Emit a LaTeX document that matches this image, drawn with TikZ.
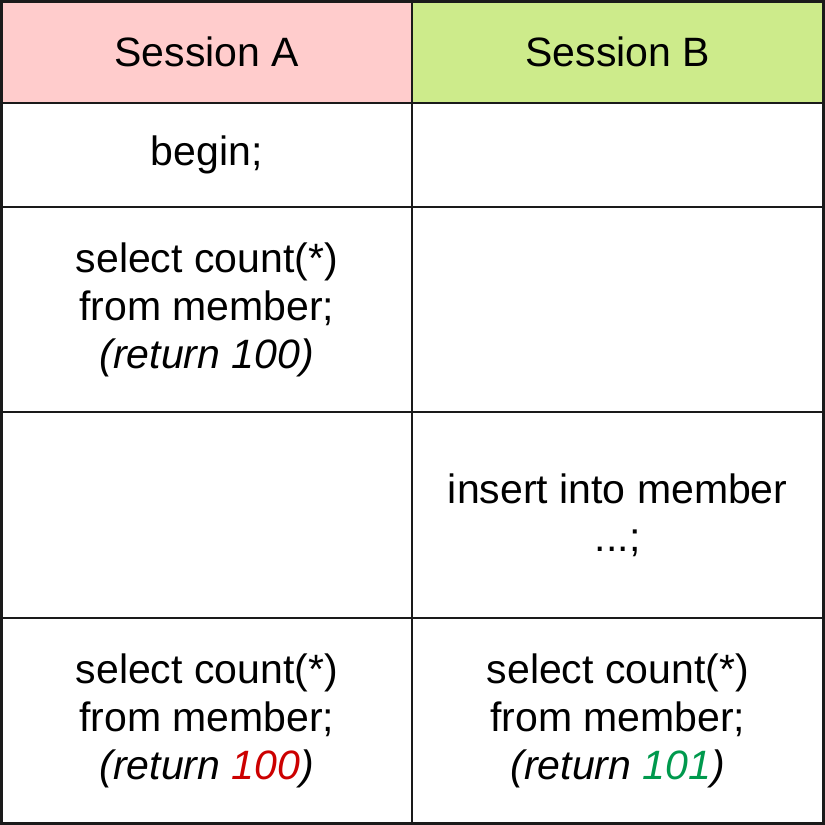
\documentclass[tikz,border=0pt]{standalone}
\usepackage{fontspec}
\setmainfont{Liberation Sans}
\definecolor{pinkc}{HTML}{FFCCCC}
\definecolor{greenc}{HTML}{CDEB8B}
\definecolor{redt}{HTML}{CC0000}
\definecolor{greent}{HTML}{00994D}
\definecolor{linec}{HTML}{1A1A1A}
\tikzset{
  cell/.style={draw=linec, line width=2.5pt, anchor=north west, inner sep=0pt, outer sep=0pt,
    align=center, font=\fontsize{41}{48}\selectfont, text=black},
}
\begin{document}
\begin{tikzpicture}[x=1pt,y=-1pt]
\useasboundingbox (0,0) rectangle (825,825);
% columns: 1.5 | 412 | 823.5 ; rows: 1.5,103,207,412,618,823.5
\node[cell, fill=pinkc, minimum width=410.5pt, minimum height=101.5pt] (a0) at (1.5,1.5) {Session A};
\node[cell, fill=greenc, minimum width=411.5pt, minimum height=101.5pt] (b0) at (412,1.5) {Session B};
\node[cell, minimum width=410.5pt, minimum height=104pt] (a1) at (1.5,103) {begin;};
\node[cell, minimum width=411.5pt, minimum height=104pt] (b1) at (412,103) {};
\node[cell, minimum width=410.5pt, minimum height=205pt] (a2) at (1.5,207) {select count(*)\\from member;\\\textit{(return 100)}};
\node[cell, minimum width=411.5pt, minimum height=205pt] (b2) at (412,207) {};
\node[cell, minimum width=410.5pt, minimum height=206pt] (a3) at (1.5,412) {};
\node[cell, minimum width=411.5pt, minimum height=206pt] (b3) at (412,412) {insert into member\\...;};
\node[cell, minimum width=410.5pt, minimum height=205.5pt] (a4) at (1.5,618) {select count(*)\\from member;\\\textit{(return \textcolor{redt}{100})}};
\node[cell, minimum width=411.5pt, minimum height=205.5pt] (b4) at (412,618) {select count(*)\\from member;\\\textit{(return \textcolor{greent}{101})}};
\end{tikzpicture}
\end{document}
